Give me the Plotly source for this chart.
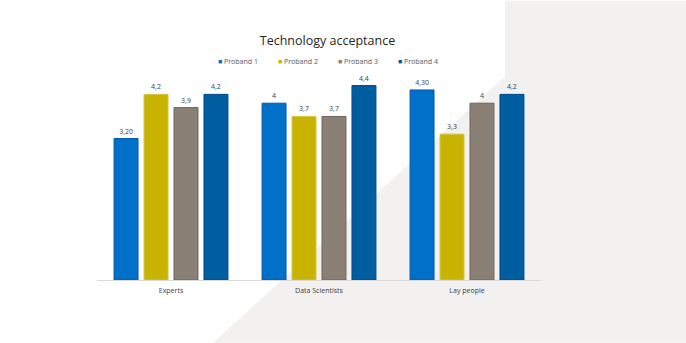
import plotly.graph_objects as go

categories = ["Experts", "Data Scientists", "Lay people"]
series_names = ["Proband 1", "Proband 2", "Proband 3", "Proband 4"]
values = {
    "Proband 1": [3.2, 4.0, 4.3],
    "Proband 2": [4.2, 3.7, 3.3],
    "Proband 3": [3.9, 3.7, 4.0],
    "Proband 4": [4.2, 4.4, 4.2],
}
value_labels = {
    "Proband 1": ["3,20", "4", "4,30"],
    "Proband 2": ["4,2", "3,7", "3,3"],
    "Proband 3": ["3,9", "3,7", "4"],
    "Proband 4": ["4,2", "4,4", "4,2"],
}
colors = {
    "Proband 1": "#0070C8",
    "Proband 2": "#C8B400",
    "Proband 3": "#8B8075",
    "Proband 4": "#005DA0",
}
borders = {
    "Proband 1": "#0058B8",
    "Proband 2": "#D4C640",
    "Proband 3": "#6E645B",
    "Proband 4": "#004A8C",
}

W, H = 686, 343
ML, MR, MT, MB = 97, 145, 58.5, 63
PW, PH = W - ML - MR, H - MT - MB


def px_to_paper(px, py):
    return (px - ML) / PW, (H - MB - py) / PH


FONT = "Open Sans, Noto Sans, sans-serif"
INVISIBLE = dict(size=0, color="rgba(0,0,0,0)", line=dict(width=0))

fig = go.Figure()
for name in series_names:
    fig.add_trace(go.Bar(
        x=categories, y=values[name], name=name,
        legendgroup=name, showlegend=False,
        marker=dict(color=colors[name], line=dict(color=borders[name], width=1)),
        text=value_labels[name], textposition="outside",
        textfont=dict(size=7, color="#404040", family=FONT),
        cliponaxis=False, hoverinfo="x+y+name",
    ))
    # legend entry (square glyph carried in the text, as in the original)
    fig.add_trace(go.Scatter(
        x=[None], y=[None], mode="markers", legendgroup=name,
        name=f"<span style='color:{colors[name]}'>■</span> {name}",
        marker=INVISIBLE, hoverinfo="skip",
    ))
# blank trailing legend slot so the last entry's text is not clipped
fig.add_trace(go.Scatter(x=[None], y=[None], mode="markers", name=" ",
                         marker=INVISIBLE, hoverinfo="skip", legendgroup="pad"))

# background diagonal panel
pts = [(505, 0), (W, 0), (W, H), (213, H), (505, 76)]
path = "M " + " L ".join(f"{px_to_paper(x, y)[0]:.4f},{px_to_paper(x, y)[1]:.4f}" for x, y in pts) + " Z"
fig.add_shape(type="path", path=path, xref="paper", yref="paper",
              fillcolor="#F2F1F0", line=dict(width=0), layer="below")

fig.update_layout(
    width=W, height=H,
    margin=dict(l=ML, r=MR, t=MT, b=MB, pad=0),
    paper_bgcolor="white", plot_bgcolor="rgba(0,0,0,0)",
    barmode="group", bargap=0.19, bargroupgap=0.2,
    font=dict(family=FONT, color="#404040"),
    title=dict(text="Technology acceptance", font=dict(size=12.5, color="#262626", family=FONT),
               x=px_to_paper(327.5, 0)[0], xref="paper", xanchor="center",
               y=1 - 41 / H, yref="container", yanchor="middle"),
    legend=dict(orientation="h", x=px_to_paper(218 - 40, 0)[0], xanchor="left",
                y=px_to_paper(0, 61)[1], yanchor="middle",
                entrywidth=15, entrywidthmode="pixels",
                font=dict(size=7, color="#595959", family=FONT),
                bgcolor="rgba(0,0,0,0)", borderwidth=0, tracegroupgap=0),
    xaxis=dict(showline=True, linecolor="#D9D9D9", linewidth=1, ticks="",
               tickfont=dict(size=7, color="#404040", family=FONT),
               showgrid=False, zeroline=False, ticklabelstandoff=4),
    yaxis=dict(visible=False, range=[0, 5], showgrid=False, zeroline=False),
)

fig.write_html("out.html")
